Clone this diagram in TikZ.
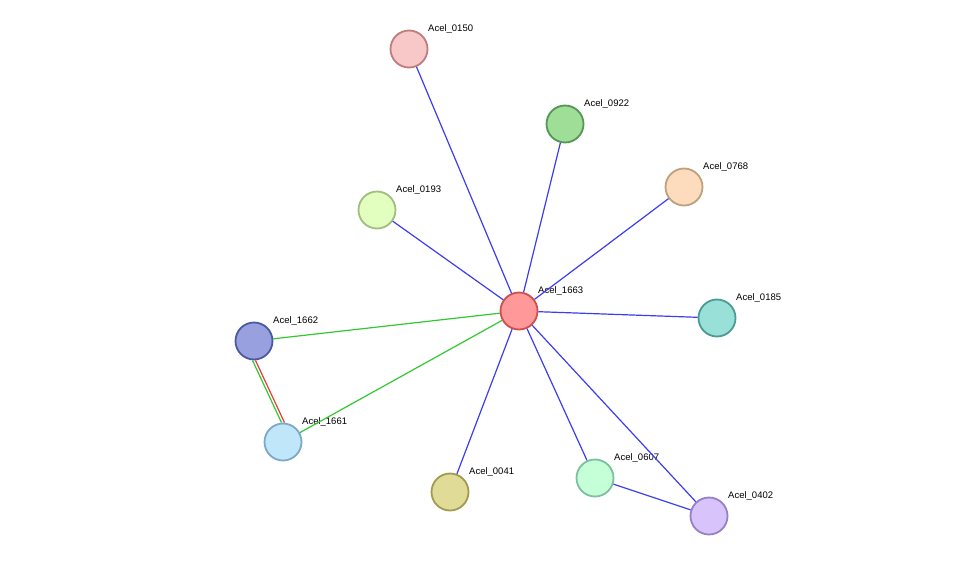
\documentclass[tikz,border=0pt]{standalone}
\usepackage{fontspec}
\setmainfont{Liberation Sans}
\begin{document}
\begin{tikzpicture}[x=1pt,y=-1pt,
 nd/.style={circle,minimum size=37pt,inner sep=0pt,line width=1.8pt},
 lb/.style={anchor=base west,font=\fontsize{9.5}{11}\selectfont,inner sep=0pt},
 bl/.style={draw={rgb,255:red,60;green,60;blue,240},line width=1.2pt},
 gr/.style={draw={rgb,255:red,50;green,200;blue,50},line width=1.2pt},
 rd/.style={draw={rgb,255:red,230;green,60;blue,60},line width=1.2pt}]
\useasboundingbox (0,0) rectangle (976,562);
\def\N#1#2#3#4#5{\node[nd,fill={rgb,255:#4},draw={rgb,255:#5}] (n#1) at (#2,#3) {};
 \node[lb] (t#1) at (#2+19,#3-18) {Acel\_#1};}
\N{0150}{409}{49}{red,248;green,200;blue,200}{red,190;green,125;blue,125}
\N{0922}{565}{124}{red,158;green,222;blue,150}{red,85;green,150;blue,85}
\N{0768}{684}{187}{red,253;green,220;blue,190}{red,190;green,160;blue,125}
\N{0193}{377}{210}{red,226;green,255;blue,192}{red,160;green,190;blue,125}
\N{1663}{519}{311}{red,255;green,152;blue,152}{red,205;green,80;blue,80}
\N{0185}{717}{318}{red,152;green,224;blue,216}{red,75;green,155;blue,148}
\N{1662}{254}{341}{red,152;green,160;blue,224}{red,75;green,90;blue,160}
\N{1661}{283}{442}{red,192;green,230;blue,250}{red,125;green,168;blue,200}
\N{0041}{450}{492}{red,224;green,220;blue,152}{red,160;green,155;blue,80}
\N{0607}{595}{478}{red,196;green,255;blue,216}{red,125;green,192;blue,160}
\N{0402}{709}{516}{red,216;green,196;blue,250}{red,150;green,128;blue,200}
\foreach \t in {0150,0922,0768,0193,0185,0041,0607,0402}{\draw[bl] (n1663) -- (n\t);}
\draw[bl] (n0607) -- (n0402);
\draw[gr] (n1663) -- (n1662);
\draw[gr] (n1663) -- (n1661);
\draw[gr] ([xshift=-1.5pt]n1662.south) -- ([xshift=-1.5pt]n1661.north);
\draw[rd] ([xshift=1.5pt]n1662.south) -- ([xshift=1.5pt]n1661.north);
\end{tikzpicture}
\end{document}
